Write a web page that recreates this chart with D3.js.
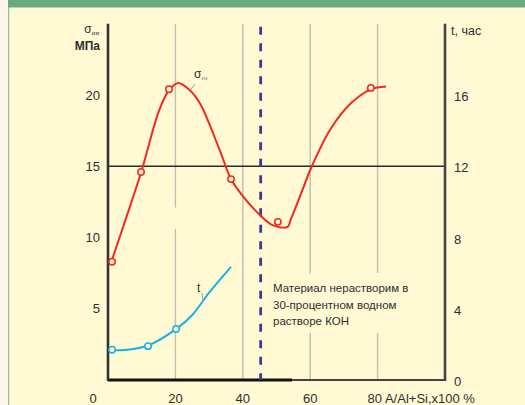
<!DOCTYPE html>
<html>
<head>
<meta charset="utf-8">
<script src="https://cdn.jsdelivr.net/npm/d3@7"></script>
<style>
  html, body { margin: 0; padding: 0; background: #fdf6e8; }
  svg { display: block; }
  text { font-family: "Liberation Sans", "DejaVu Sans", sans-serif; fill: #2e2e2e; }
</style>
</head>
<body>
<svg id="chart" width="525" height="405"></svg>
<script>
// Al/(Al+Si) content, %
const xTicks = [0, 20, 40, 60, 80];
const sigmaTicks = [5, 10, 15, 20];
const timeTicks = [0, 4, 8, 12, 16];

// Bending strength σ, MPa — smooth trend
const sigmaCurveX = [1, 5, 10, 15, 18, 20.8, 24, 27.3, 33.2, 36.5, 40, 45, 49, 53.3, 54.3, 57, 60.5, 66, 72, 78, 82.5];
const sigmaCurveY = [8.3, 11.1, 14.7, 18.8, 20.3, 20.85, 20.4, 19.4, 16.1, 14.1, 12.9, 11.6, 10.85, 10.75, 11.3, 12.9, 15.0, 17.6, 19.4, 20.4, 20.6];
// Bending strength σ, MPa — measured points
const sigmaPointX = [1.2, 9.8, 18.1, 36.5, 50.4, 78];
const sigmaPointY = [8.3, 14.6, 20.4, 14.1, 11.1, 20.5];

// Dissolution time t, h — smooth trend
const timeCurveX = [1, 5, 12, 20.5, 25, 30, 36.5];
const timeCurveY = [1.7, 1.68, 1.95, 2.9, 3.65, 4.9, 6.35];
// Dissolution time t, h — measured points
const timePointX = [1.2, 11.9, 20.2];
const timePointY = [1.7, 1.9, 2.86];

// Solubility boundary and reference level
const boundaryX = 45.3;
const insolubleEndX = 54.6;
const referenceSigma = 15;

const noteLines = ["Материал нерастворим в", "30-процентном водном", "растворе КОН"];

const svg = d3.select("#chart");

// page decoration: header band, side strip, cream panel
svg.append("rect").attr("x", 0).attr("y", 0).attr("width", 525).attr("height", 405).attr("fill", "#fdf6e8");
svg.append("rect").attr("x", 9).attr("y", 0).attr("width", 516).attr("height", 405).attr("fill", "#fffad4");
svg.append("rect").attr("x", 8).attr("y", 7).attr("width", 1.2).attr("height", 398).attr("fill", "#8cc09a");
svg.append("rect").attr("x", 8).attr("y", 0).attr("width", 517).attr("height", 7.5).attr("fill", "#6aaa7e");

const x = d3.scaleLinear().domain([0, 100]).range([108, 445]);
const yS = d3.scaleLinear().domain([0, 25]).range([380, 23.75]);
const yT = d3.scaleLinear().domain([0, 20]).range([380, 23.75]);

// vertical grid, broken where labels sit
const gridGaps = {20: [[10.6, 12.1]], 40: [], 60: [[3.3, 7.5]], 80: [[3.3, 7.5]]};
const grid = svg.append("g");
[20, 40, 60, 80].forEach(v => {
  let segs = [];
  let top = 25;
  gridGaps[v].slice().sort((a, b) => b[1] - a[1]).forEach(([lo, hi]) => {
    segs.push([hi, top]);
    top = lo;
  });
  segs.push([0, top]);
  segs.forEach(([lo, hi]) => {
    grid.append("line")
      .attr("x1", x(v)).attr("x2", x(v))
      .attr("y1", yS(lo)).attr("y2", yS(hi))
      .attr("stroke", "#c2bfae").attr("stroke-width", 1.5);
  });
});

// reference level line
svg.append("line")
  .attr("x1", x(0)).attr("x2", x(100))
  .attr("y1", yS(referenceSigma)).attr("y2", yS(referenceSigma))
  .attr("stroke", "#2a2a2a").attr("stroke-width", 1.4);

// bottom axis: thin full line plus heavy insoluble range
svg.append("line")
  .attr("x1", x(0)).attr("x2", x(100))
  .attr("y1", yS(0)).attr("y2", yS(0))
  .attr("stroke", "#444").attr("stroke-width", 2);
svg.append("line")
  .attr("x1", x(0)).attr("x2", x(insolubleEndX))
  .attr("y1", yS(0)).attr("y2", yS(0))
  .attr("stroke", "#111").attr("stroke-width", 3);

// left and right axes
svg.append("line")
  .attr("x1", x(0)).attr("x2", x(0))
  .attr("y1", yS(25)).attr("y2", yS(0) + 1)
  .attr("stroke", "#333").attr("stroke-width", 2.6);
svg.append("line")
  .attr("x1", x(100)).attr("x2", x(100))
  .attr("y1", yS(25)).attr("y2", yS(0) + 1)
  .attr("stroke", "#444").attr("stroke-width", 2.6);

// dashed boundary
svg.append("line")
  .attr("x1", x(boundaryX)).attr("x2", x(boundaryX))
  .attr("y1", yS(25) + 3).attr("y2", yS(0))
  .attr("stroke", "#3a3a96").attr("stroke-width", 2.8)
  .attr("stroke-dasharray", "8,8.5");

// tick labels
const lbl = svg.append("g").attr("font-size", 13);
sigmaTicks.forEach(v => {
  lbl.append("text").attr("x", 100).attr("y", yS(v) + 4.5)
    .attr("text-anchor", "end").text(v);
});
timeTicks.forEach(v => {
  lbl.append("text").attr("x", 454).attr("y", yT(v) + 6)
    .attr("text-anchor", "start").text(v);
});
xTicks.forEach(v => {
  const t = lbl.append("text").attr("y", 403);
  if (v === 0) {
    t.attr("x", x(0) - 15).attr("text-anchor", "middle").text("0");
  } else if (v === 80) {
    t.attr("x", x(80) - 10).attr("text-anchor", "start").text("80 A/Al+Si,x100 %");
  } else {
    t.attr("x", x(v)).attr("text-anchor", "middle").text(v);
  }
});

// axis titles
const sigTitle = svg.append("text").attr("x", 100).attr("y", 33).attr("text-anchor", "end").attr("font-size", 12);
sigTitle.append("tspan").text("σ");
sigTitle.append("tspan").attr("font-size", 6).attr("dy", 2).text("изг");
svg.append("text").attr("x", 100).attr("y", 50).attr("text-anchor", "end")
  .attr("font-size", 12).attr("font-weight", "bold").text("МПа");
svg.append("text").attr("x", 451).attr("y", 35).attr("font-size", 12.5).text("t, час");

// curves
const lineS = d3.line().x(d => x(d[0])).y(d => yS(d[1])).curve(d3.curveCatmullRom.alpha(0.5));
const lineT = d3.line().x(d => x(d[0])).y(d => yT(d[1])).curve(d3.curveCatmullRom.alpha(0.5));

const sigmaRed = "#f4281c";
const timeBlue = "#18b0e6";

svg.append("path")
  .attr("d", lineS(d3.zip(sigmaCurveX, sigmaCurveY)))
  .attr("fill", "none").attr("stroke", sigmaRed).attr("stroke-width", 2);
svg.append("path")
  .attr("d", lineT(d3.zip(timeCurveX, timeCurveY)))
  .attr("fill", "none").attr("stroke", timeBlue).attr("stroke-width", 2);

svg.append("g").selectAll("circle")
  .data(d3.zip(sigmaPointX, sigmaPointY)).join("circle")
  .attr("cx", d => x(d[0])).attr("cy", d => yS(d[1])).attr("r", 3.2)
  .attr("fill", "#fffad4").attr("stroke", sigmaRed).attr("stroke-width", 1.5);
svg.append("g").selectAll("circle")
  .data(d3.zip(timePointX, timePointY)).join("circle")
  .attr("cx", d => x(d[0])).attr("cy", d => yT(d[1])).attr("r", 3.2)
  .attr("fill", "#fffad4").attr("stroke", timeBlue).attr("stroke-width", 1.5);

// curve captions with leaders
svg.append("line").attr("x1", 189).attr("y1", 92).attr("x2", 195).attr("y2", 84)
  .attr("stroke", "#888").attr("stroke-width", 0.8);
const sCap = svg.append("text").attr("x", 194).attr("y", 78).attr("font-size", 12);
sCap.append("tspan").text("σ");
sCap.append("tspan").attr("font-size", 6).attr("dy", 2).attr("fill", "#888").text("из");

svg.append("line").attr("x1", 202).attr("y1", 293).attr("x2", 203).attr("y2", 300)
  .attr("stroke", "#888").attr("stroke-width", 0.8);
svg.append("text").attr("x", 197).attr("y", 292).attr("font-size", 12).text("t");

// note about solubility
const note = svg.append("g").attr("font-size", 11.5);
noteLines.forEach((s, i) => {
  note.append("text").attr("x", 273).attr("y", 292 + i * 16.5).text(s);
});
</script>
</body>
</html>
